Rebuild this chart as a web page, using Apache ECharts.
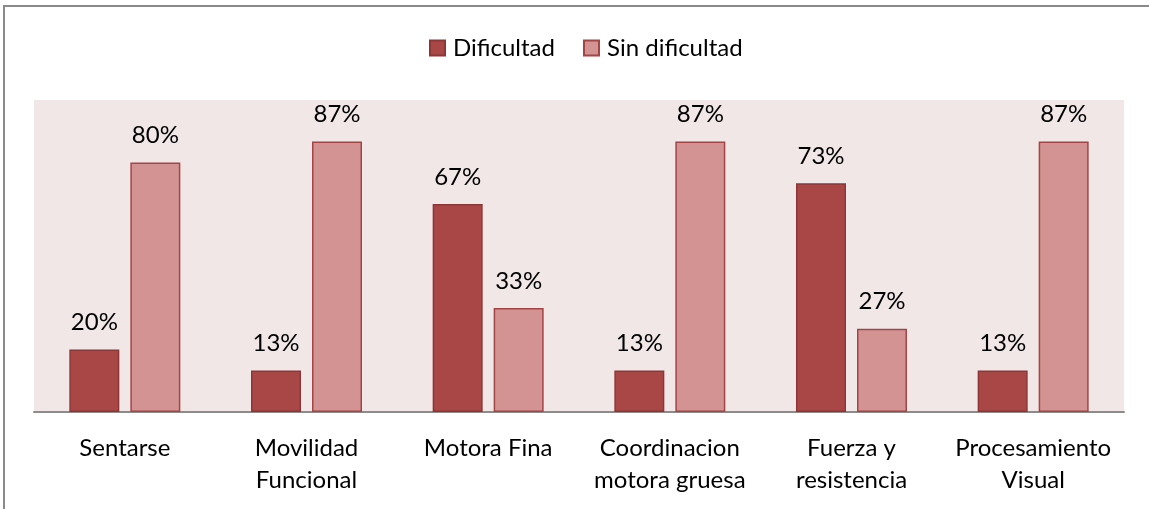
<!DOCTYPE html>
<html>
<head>
<meta charset="utf-8">
<script src="https://cdn.jsdelivr.net/npm/echarts@6/dist/echarts.min.js"></script>
<style>
  html, body { margin: 0; padding: 0; background: #fff; }
  #chart { width: 1149px; height: 509px; }
</style>
</head>
<body>
<div id="chart"></div>
<script>
// categorias y valores (%)
let categorias = ['Sentarse', 'Movilidad\nFuncional', 'Motora Fina', 'Coordinacion\nmotora gruesa', 'Fuerza y\nresistencia', 'Procesamiento\nVisual'];
let dificultad = [20, 13.3, 66.7, 13.3, 73.3, 13.3];
let sinDificultad = [80, 86.7, 33.3, 86.7, 26.7, 86.7];

let fuente = 'Lato, "Open Sans", sans-serif';

function etiqueta(p) {
  return Math.round(p.value) + '%';
}

let myChart = echarts.init(document.getElementById('chart'));
myChart.setOption({
  animation: false,
  textStyle: { fontFamily: fuente },
  graphic: [{
    type: 'rect',
    shape: { x: 4, y: 6, width: 1300, height: 700 },
    style: { fill: 'none', stroke: '#8a8a8a', lineWidth: 2 },
    silent: true
  }],
  legend: {
    top: 31,
    left: 424,
    itemWidth: 15,
    itemHeight: 15,
    itemGap: 28,
    icon: 'rect',
    textStyle: { fontSize: 24, color: '#000', fontFamily: fuente, padding: [0, 0, 0, 3] },
    data: ['Dificultad', 'Sin dificultad']
  },
  grid: {
    left: 34, right: 25, top: 100, bottom: 97,
    show: true, backgroundColor: '#f2e7e7', borderWidth: 0
  },
  xAxis: {
    type: 'category',
    data: categorias,
    axisLine: { lineStyle: { color: '#8c8c8c', width: 2 } },
    axisTick: { show: false },
    axisLabel: {
      interval: 0, margin: 20, fontSize: 24, lineHeight: 32,
      color: '#000', fontFamily: fuente
    }
  },
  yAxis: {
    type: 'value', min: 0, max: 100,
    show: false,
    splitLine: { show: false }
  },
  series: [{
    name: 'Dificultad',
    type: 'bar',
    data: dificultad,
    barWidth: 50,
    barGap: '22%',
    itemStyle: { color: '#a94646', borderColor: '#8e3636', borderWidth: 1.5 },
    label: { show: true, position: 'top', distance: 15, fontSize: 24, color: '#000', fontFamily: fuente, formatter: etiqueta }
  }, {
    name: 'Sin dificultad',
    type: 'bar',
    data: sinDificultad,
    barWidth: 50,
    itemStyle: { color: '#d39393', borderColor: '#a44545', borderWidth: 1.5 },
    label: { show: true, position: 'top', distance: 15, fontSize: 24, color: '#000', fontFamily: fuente, formatter: etiqueta }
  }]
});
</script>
</body>
</html>
